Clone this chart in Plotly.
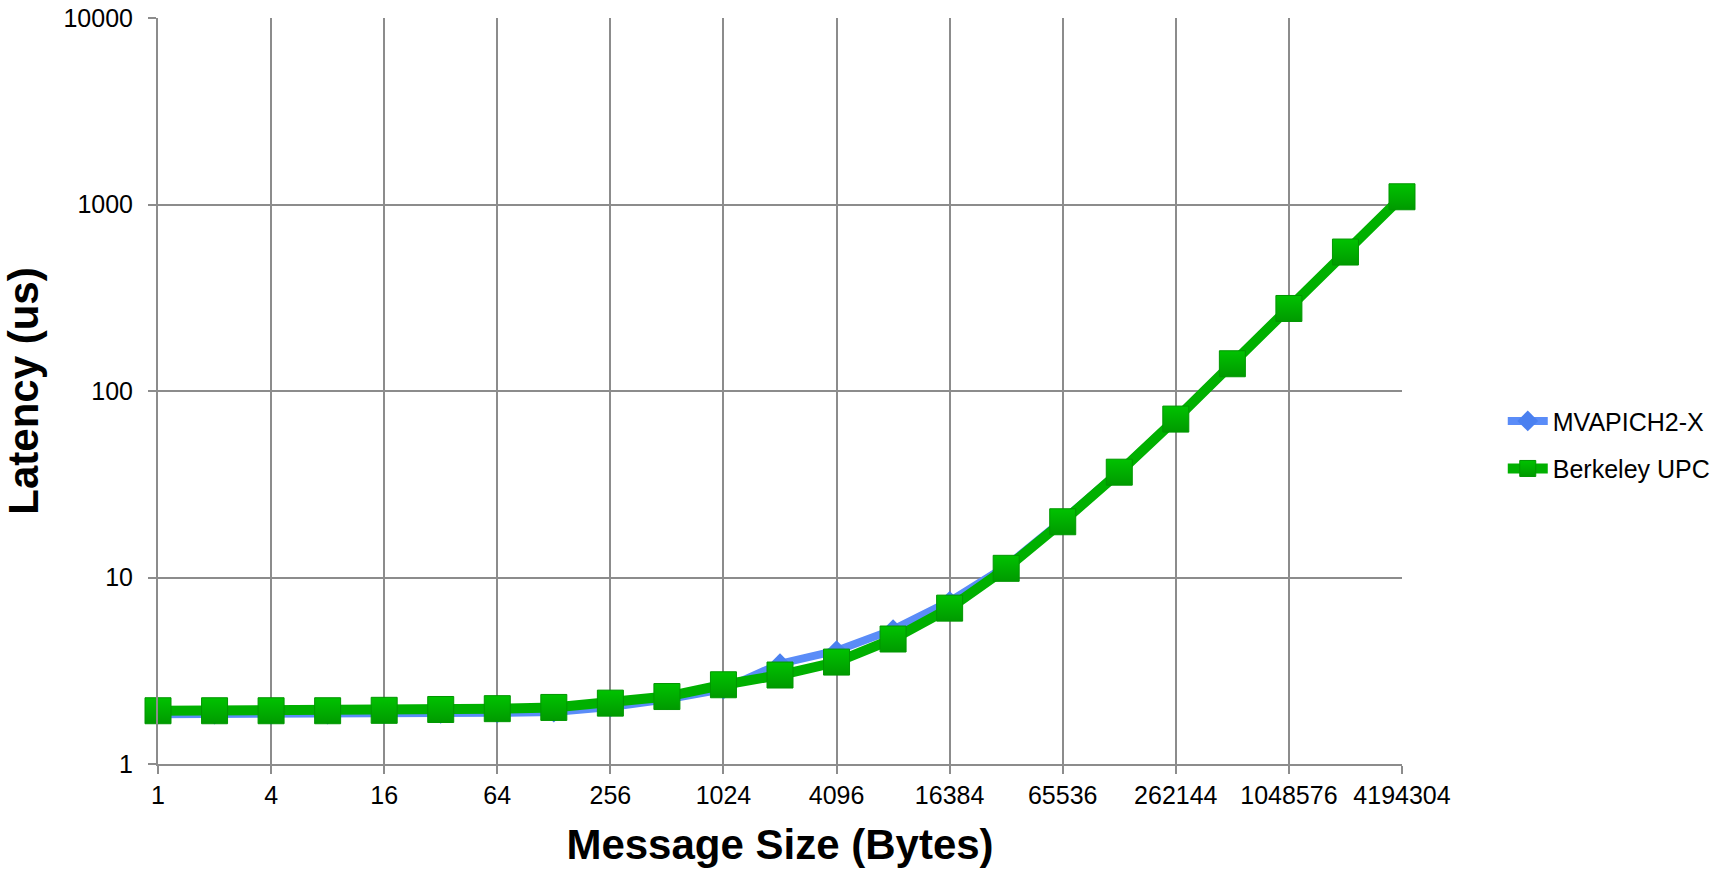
import plotly.graph_objects as go

# Message sizes in bytes (2^0 .. 2^22)
sizes = [2 ** k for k in range(23)]
tick_sizes = [1, 4, 16, 64, 256, 1024, 4096, 16384, 65536, 262144, 1048576, 4194304]
tick_labels = [str(s) for s in tick_sizes]

# Latency in microseconds
mvapich2x = [1.85, 1.85, 1.85, 1.85, 1.86, 1.87, 1.88, 1.90, 2.02, 2.22, 2.52,
             3.45, 4.05, 5.25, 7.45, 11.5, 20.3, 37.0, 71.0, 141, 278, 556, 1100]
berkeley_upc = [1.93, 1.93, 1.93, 1.93, 1.94, 1.96, 1.98, 2.01, 2.12, 2.30, 2.66,
                3.00, 3.52, 4.68, 6.85, 11.2, 19.9, 36.7, 70.7, 140, 277, 556, 1100]

y_ticks = [1, 10, 100, 1000, 10000]
y_labels = [str(v) for v in y_ticks]

font_family = "Liberation Sans, Arial, sans-serif"
grid_color = "#8c8c8c"

fig = go.Figure()
fig.add_trace(go.Scatter(
    x=sizes, y=mvapich2x, name="MVAPICH2-X", mode="lines+markers",
    legendgroup="a", cliponaxis=False,
    line=dict(color="#5a8cf8", width=8),
    marker=dict(symbol="diamond", size=16, color="#4a80f0"),
))
fig.add_trace(go.Scatter(
    x=sizes, y=berkeley_upc, name="Berkeley UPC", mode="lines+markers",
    legendgroup="b", cliponaxis=False,
    line=dict(color="#00b000", width=10),
    marker=dict(symbol="square", size=26, color="#00c200",
                line=dict(color="#009600", width=1),
                gradient=dict(type="vertical", color="#009a00")),
))

fig.update_layout(
    width=1734, height=869,
    margin=dict(l=158, r=332, t=18, b=105),
    paper_bgcolor="white", plot_bgcolor="white",
    font=dict(family=font_family, size=25, color="black"),
    legend=dict(x=1.081, y=0.428, xanchor="left", yanchor="middle",
                font=dict(size=25), tracegroupgap=12, itemwidth=40,
                traceorder="grouped", bgcolor="rgba(0,0,0,0)"),
    xaxis=dict(
        type="log", range=[0, 6.6227], automargin=False,
        tickvals=tick_sizes, ticktext=tick_labels,
        showgrid=True, gridcolor=grid_color, gridwidth=2,
        showline=True, linecolor=grid_color, linewidth=2,
        ticks="outside", ticklen=8, tickcolor=grid_color, tickwidth=2,
        zeroline=False,
        title=dict(text="<b>Message Size (Bytes)</b>", font=dict(size=42), standoff=22),
        tickfont=dict(size=25),
    ),
    yaxis=dict(
        type="log", range=[0, 4], automargin=False,
        tickvals=y_ticks, ticktext=y_labels,
        showgrid=True, gridcolor=grid_color, gridwidth=2,
        showline=True, linecolor=grid_color, linewidth=2,
        ticks="outside", ticklen=8, tickcolor=grid_color, tickwidth=2,
        ticklabelstandoff=10,
        zeroline=False,
        title=dict(text="<b>Latency (us)</b>", font=dict(size=42), standoff=12),
        tickfont=dict(size=25),
    ),
)

fig.write_html("out.html")
